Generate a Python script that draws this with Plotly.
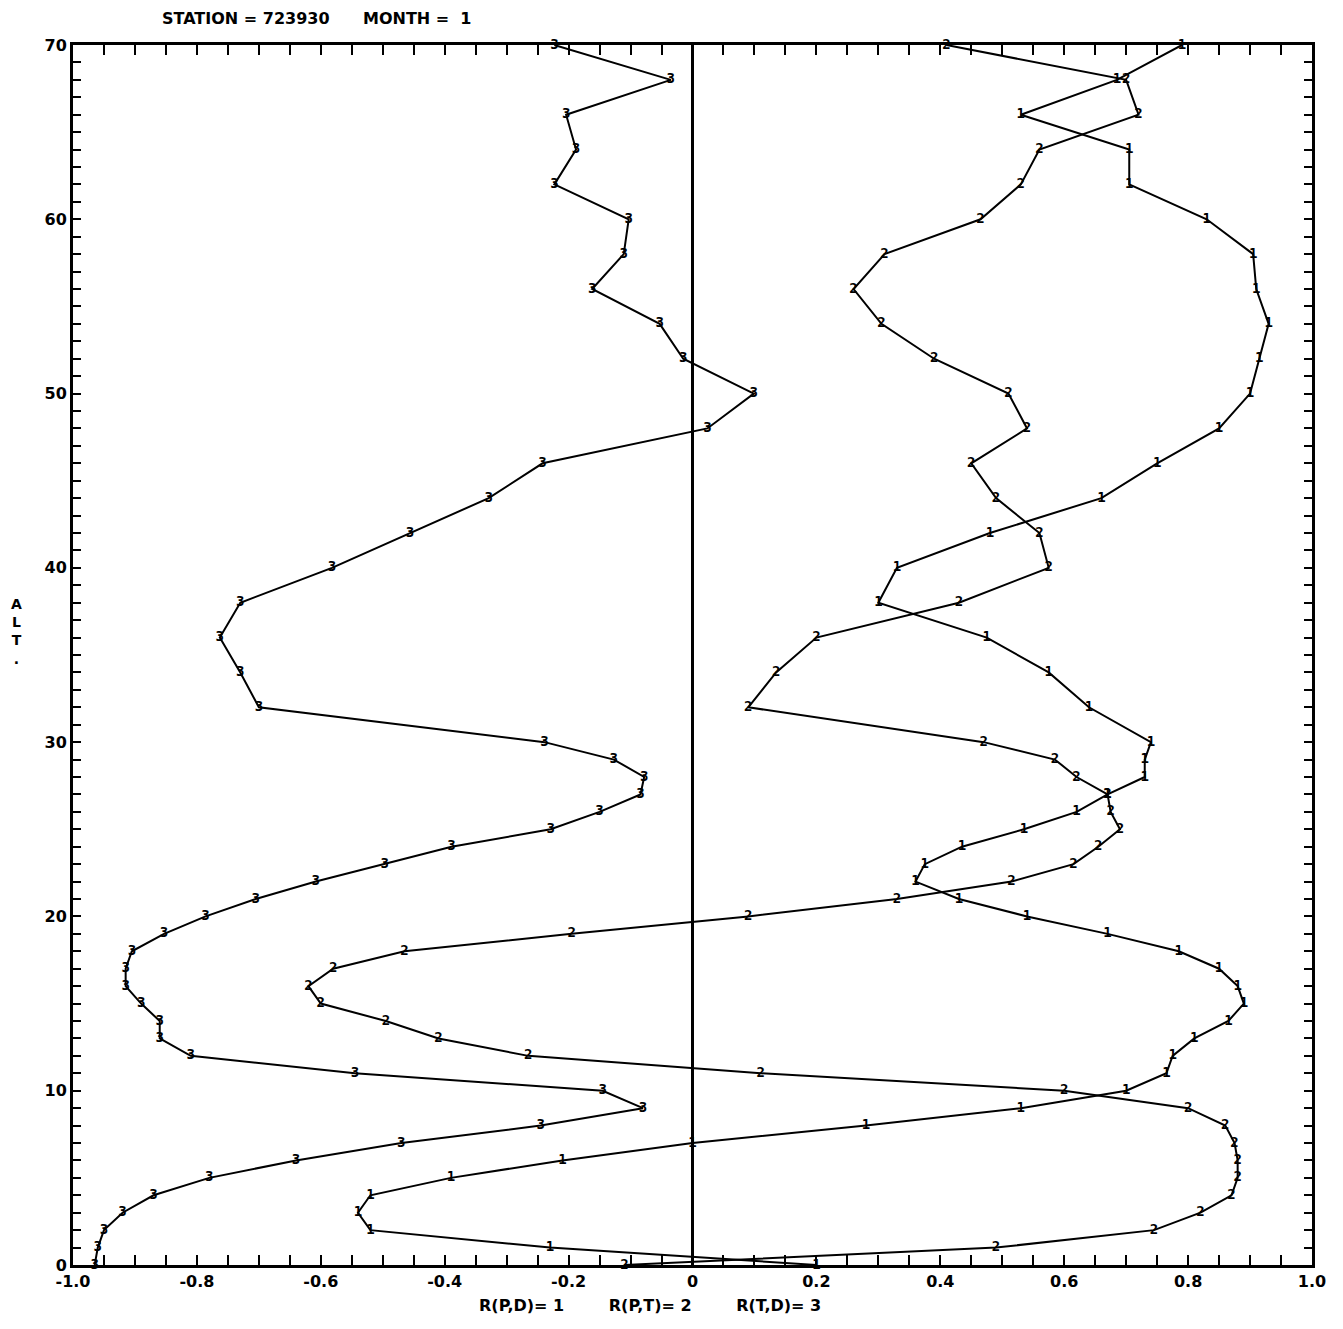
import plotly.graph_objects as go

# Altitude levels (km)
alt = [0, 1, 2, 3, 4, 5, 6, 7, 8, 9, 10, 11, 12, 13, 14, 15, 16, 17, 18, 19, 20,
       21, 22, 23, 24, 25, 26, 27, 28, 29, 30, 32, 34, 36, 38, 40, 42, 44, 46, 48,
       50, 52, 54, 56, 58, 60, 62, 64, 66, 68, 70]

# R(P,D) = 1
r_pd = [0.20, -0.23, -0.52, -0.54, -0.52, -0.39, -0.21, 0.00, 0.28, 0.53, 0.70,
        0.765, 0.775, 0.81, 0.865, 0.89, 0.88, 0.85, 0.785, 0.67, 0.54,
        0.43, 0.36, 0.375, 0.435, 0.535, 0.62, 0.67, 0.73, 0.73, 0.74,
        0.64, 0.575, 0.475, 0.30, 0.33, 0.48, 0.66, 0.75, 0.85,
        0.90, 0.915, 0.93, 0.91, 0.905, 0.83, 0.705, 0.705, 0.53, 0.685, 0.79]

# R(P,T) = 2
r_pt = [-0.11, 0.49, 0.745, 0.82, 0.87, 0.88, 0.88, 0.875, 0.86, 0.80, 0.60,
        0.11, -0.265, -0.41, -0.495, -0.60, -0.62, -0.58, -0.465, -0.195, 0.09,
        0.33, 0.515, 0.615, 0.655, 0.69, 0.675, 0.67, 0.62, 0.585, 0.47,
        0.09, 0.135, 0.20, 0.43, 0.575, 0.56, 0.49, 0.45, 0.54,
        0.51, 0.39, 0.305, 0.26, 0.31, 0.465, 0.53, 0.56, 0.72, 0.70, 0.41]

# R(T,D) = 3
r_td = [-0.965, -0.96, -0.95, -0.92, -0.87, -0.78, -0.64, -0.47, -0.245, -0.08, -0.145,
        -0.545, -0.81, -0.86, -0.86, -0.89, -0.915, -0.915, -0.905, -0.853, -0.786,
        -0.705, -0.608, -0.497, -0.389, -0.229, -0.15, -0.084, -0.078, -0.127, -0.239,
        -0.70, -0.73, -0.763, -0.73, -0.582, -0.456, -0.329, -0.242, 0.024,
        0.099, -0.015, -0.053, -0.162, -0.111, -0.103, -0.223, -0.188, -0.204, -0.035, -0.223]

series = [("1", r_pd), ("2", r_pt), ("3", r_td)]

x_tickvals = [-1.0, -0.8, -0.6, -0.4, -0.2, 0.0, 0.2, 0.4, 0.6, 0.8, 1.0]
x_ticktext = ["-1.0", "-0.8", "-0.6", "-0.4", "-0.2", "0", "0.2", "0.4", "0.6", "0.8", "1.0"]
y_tickvals = [0, 10, 20, 30, 40, 50, 60, 70]
y_ticktext = ["0", "10", "20", "30", "40", "50", "60", "70"]

FONT = "DejaVu Sans"
SP = "&nbsp;"

fig = go.Figure()
for label, vals in series:
    fig.add_trace(go.Scatter(
        x=vals, y=alt, mode="lines+text",
        text=[label] * len(alt), textposition="middle center",
        textfont=dict(family="DejaVu Sans Mono", size=14, color="black", weight="bold"),
        line=dict(color="black", width=2),
        showlegend=False, hoverinfo="skip", cliponaxis=False,
    ))

fig.update_xaxes(
    range=[-1, 1], showgrid=False, zeroline=True, zerolinecolor="black", zerolinewidth=3,
    showline=True, linecolor="black", linewidth=3, mirror="allticks",
    ticks="inside", ticklen=10, tickwidth=2, tickcolor="black",
    tickmode="array", tickvals=x_tickvals, ticktext=x_ticktext,
    tickfont=dict(family=FONT, size=16, color="black", weight="bold"),
    minor=dict(tickmode="linear", tick0=0, dtick=0.05, ticks="inside", ticklen=10,
               tickwidth=2, tickcolor="black", showgrid=False),
)
fig.update_yaxes(
    range=[0, 70], showgrid=False, zeroline=False,
    showline=True, linecolor="black", linewidth=3, mirror="allticks",
    ticks="inside", ticklen=8, tickwidth=2, tickcolor="black",
    tickmode="array", tickvals=y_tickvals, ticktext=y_ticktext,
    tickfont=dict(family=FONT, size=16, color="black", weight="bold"),
    minor=dict(tickmode="linear", tick0=0, dtick=1, ticks="inside", ticklen=8,
               tickwidth=2, tickcolor="black", showgrid=False),
)

fig.update_layout(
    width=1335, height=1321,
    margin=dict(l=65, r=31, t=37, b=64),
    plot_bgcolor="white", paper_bgcolor="white",
    annotations=[
        dict(text="STATION = 723930" + SP * 6 + "MONTH =" + SP * 2 + "1",
             xref="paper", yref="paper", x=0.070, y=1.022, xanchor="left", yanchor="middle",
             showarrow=False, font=dict(family=FONT, size=16, color="black", weight="bold")),
        dict(text="R(P,D)= 1" + SP * 8 + "R(P,T)= 2" + SP * 8 + "R(T,D)= 3",
             xref="paper", yref="paper", x=0.466, y=-0.033, xanchor="center", yanchor="middle",
             showarrow=False, font=dict(family=FONT, size=16, color="black", weight="bold")),
        dict(text="A<br>L<br>T<br>.",
             xref="paper", yref="paper", x=-0.046, y=0.519, xanchor="center", yanchor="middle",
             showarrow=False, font=dict(family=FONT, size=14, color="black", weight="bold")),
    ],
)

fig.write_html("out.html")
